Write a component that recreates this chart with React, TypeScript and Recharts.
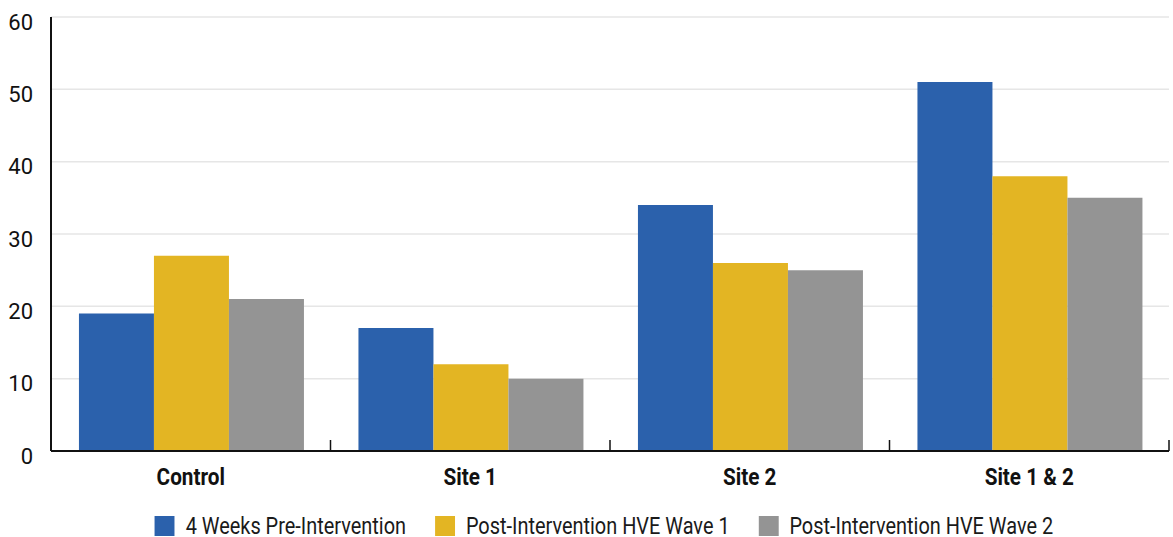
import React from 'react';
import { BarChart, Bar, XAxis, YAxis, CartesianGrid, Legend } from 'recharts';

const categories = ['Control', 'Site 1', 'Site 2', 'Site 1 & 2'];
const preIntervention = [19, 17, 34, 51];
const hveWave1 = [27, 12, 26, 38];
const hveWave2 = [21, 10, 25, 35];
const yTicks = [0, 10, 20, 30, 40, 50, 60];

const SERIES = [
  { key: 'pre', name: '4 Weeks Pre-Intervention', color: '#2B61AC' },
  { key: 'w1', name: 'Post-Intervention HVE Wave 1', color: '#E3B523' },
  { key: 'w2', name: 'Post-Intervention HVE Wave 2', color: '#949494' },
];

const data = categories.map((c, i) => ({
  name: c,
  pre: preIntervention[i],
  w1: hveWave1[i],
  w2: hveWave2[i],
}));

const W = 1173;
const H = 537;
const MARGIN = { top: 17, right: 4, left: 0, bottom: 0 };
const Y_W = 51;
const HALF_BAND = (W - MARGIN.left - MARGIN.right - Y_W) / categories.length / 2;

// no condensed face installed, so Roboto is squeezed horizontally
const FONT = 'Roboto, "Liberation Sans", sans-serif';
const SQUEEZE = 0.83;

// category label plus the upward boundary tick on its right edge
function CategoryTick(props: any) {
  const { x, y, payload } = props;
  return (
    <g>
      <line x1={x + HALF_BAND} x2={x + HALF_BAND} y1={y} y2={y - 11} stroke="#111" strokeWidth={1.5} />
      <text
        transform={`translate(${x}, ${y + 26}) scale(0.9, 1)`}
        textAnchor="middle"
        dominantBaseline="central"
        fontFamily={FONT}
        fontWeight="bold"
        fontSize={23}
        fill="#111"
      >
        {payload.value}
      </text>
    </g>
  );
}

function LegendContent() {
  return (
    <div
      style={{
        display: 'flex',
        justifyContent: 'center',
        alignItems: 'center',
        transform: `translateX(17.5px) scaleX(${SQUEEZE})`,
        transformOrigin: '50% 50%',
      }}
    >
      {SERIES.map((s, i) => (
        <div key={s.key} style={{ display: 'flex', alignItems: 'center', marginLeft: i === 0 ? 0 : 35 }}>
          <span
            style={{ width: 20 / SQUEEZE, height: 20, background: s.color, display: 'inline-block', marginRight: 13 }}
          />
          <span style={{ fontFamily: FONT, fontSize: 24, color: '#1a1a1a', lineHeight: '30px', whiteSpace: 'nowrap' }}>
            {s.name}
          </span>
        </div>
      ))}
    </div>
  );
}

export default function App() {
  return (
    <div style={{ position: 'absolute', left: 0, top: 0, width: W, height: H, background: '#fff' }}>
      <BarChart width={W} height={H} data={data} margin={MARGIN} barGap={0} barCategoryGap="10%">
        <CartesianGrid vertical={false} stroke="#e6e6e6" strokeWidth={1.5} />
        <XAxis
          dataKey="name"
          height={56}
          axisLine={{ stroke: '#111', strokeWidth: 2 }}
          tickLine={false}
          tickSize={0}
          tickMargin={0}
          tick={<CategoryTick />}
          interval={0}
        />
        <YAxis
          width={Y_W}
          domain={[0, 60]}
          ticks={yTicks}
          axisLine={{ stroke: '#111', strokeWidth: 2 }}
          tickLine={false}
          tickMargin={12}
          tick={{ fontFamily: FONT, fontSize: 22, fill: '#111', dy: 5 }}
        />
        {SERIES.map((s) => (
          <Bar key={s.key} dataKey={s.key} name={s.name} fill={s.color} isAnimationActive={false} />
        ))}
        <Legend
          content={<LegendContent />}
          wrapperStyle={{ position: 'absolute', left: 0, top: 511, width: W, height: 30 }}
        />
      </BarChart>
    </div>
  );
}
